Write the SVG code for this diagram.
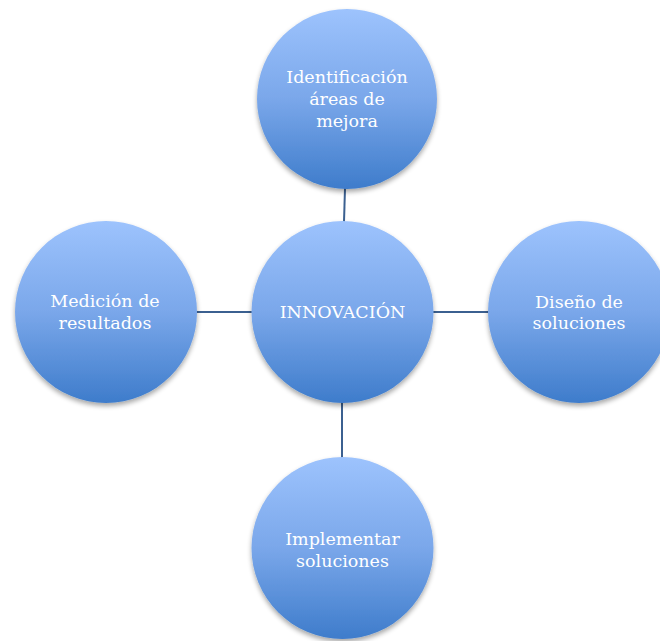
<svg xmlns="http://www.w3.org/2000/svg" width="660" height="641" viewBox="0 0 660 641">
  <defs>
    <linearGradient id="g" x1="0" y1="0" x2="0" y2="1">
      <stop offset="0" stop-color="#9dc3fd"/>
      <stop offset="0.5" stop-color="#7aa7ea"/>
      <stop offset="1" stop-color="#3e7ccb"/>
    </linearGradient>
    <filter id="sh" x="-20%" y="-20%" width="140%" height="150%">
      <feGaussianBlur in="SourceAlpha" stdDeviation="2.5"/>
      <feOffset dx="0" dy="3" result="b"/>
      <feComponentTransfer><feFuncA type="linear" slope="0.35"/></feComponentTransfer>
      <feMerge><feMergeNode/><feMergeNode in="SourceGraphic"/></feMerge>
    </filter>
  </defs>
  <style>
    .c { fill: url(#g); filter: url(#sh); }
    .t { font-family: "DejaVu Serif", "Liberation Serif", serif; font-size: 17.5px; fill: #ffffff; text-anchor: middle; }
    .l { stroke: #3b6090; stroke-width: 2; fill: none; }
  </style>
  <rect width="660" height="641" fill="#ffffff"/>
  <g id="connectors">
    <line class="l" x1="345" y1="188" x2="344" y2="222"/>
    <line class="l" x1="196" y1="312" x2="253" y2="312"/>
    <line class="l" x1="432" y1="312" x2="489" y2="312"/>
    <line class="l" x1="342" y1="402" x2="342" y2="458"/>
  </g>
  <g id="node-top">
    <circle class="c" cx="347" cy="99" r="90"/>
    <text class="t" x="347" y="83">Identificación</text>
    <text class="t" x="347" y="105">áreas de</text>
    <text class="t" x="347" y="127">mejora</text>
  </g>
  <g id="node-center">
    <circle class="c" cx="342.5" cy="312" r="91"/>
    <text class="t" x="342.5" y="318">INNOVACIÓN</text>
  </g>
  <g id="node-left">
    <circle class="c" cx="106" cy="312" r="91"/>
    <text class="t" x="105" y="307">Medición de</text>
    <text class="t" x="105" y="329">resultados</text>
  </g>
  <g id="node-right">
    <circle class="c" cx="579" cy="312" r="91"/>
    <text class="t" x="579" y="308">Diseño de</text>
    <text class="t" x="579" y="329">soluciones</text>
  </g>
  <g id="node-bottom">
    <circle class="c" cx="342.5" cy="548" r="91"/>
    <text class="t" x="342.5" y="545">Implementar</text>
    <text class="t" x="342.5" y="567">soluciones</text>
  </g>
</svg>
